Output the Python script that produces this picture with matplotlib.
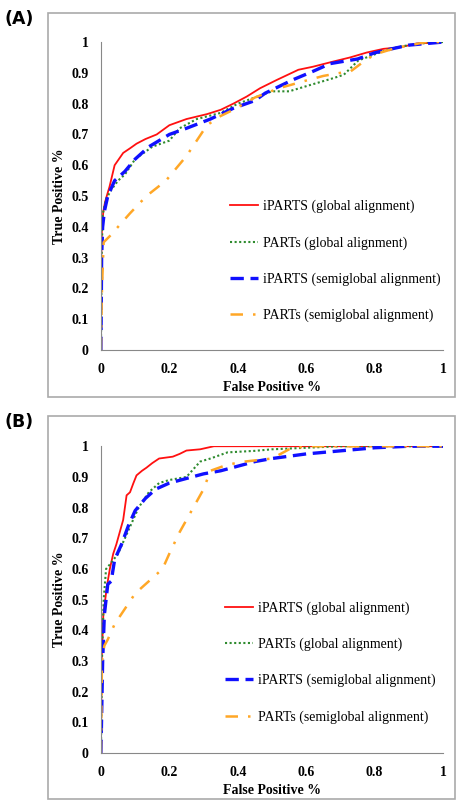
import numpy as np
import matplotlib.pyplot as plt
from matplotlib.patches import Rectangle

# ===== panel A data (FPR, TPR) =====
a_red_x = [0, 0.001, 0.003, 0.007, 0.012, 0.017, 0.025, 0.04, 0.065, 0.085, 0.104, 0.13, 0.163, 0.2, 0.25,
           0.31, 0.35, 0.387, 0.426, 0.465, 0.514, 0.577, 0.62, 0.68, 0.728, 0.777, 0.826, 0.874, 0.923, 1.0]
a_red_y = [0, 0.3, 0.4, 0.45, 0.48, 0.50, 0.53, 0.60, 0.64, 0.655, 0.67, 0.685, 0.70, 0.73, 0.75,
           0.766, 0.78, 0.80, 0.823, 0.85, 0.877, 0.91, 0.92, 0.937, 0.95, 0.966, 0.978, 0.983, 0.995, 1.0]

a_green_x = [0, 0.002, 0.005, 0.015, 0.03, 0.05, 0.07, 0.1, 0.15, 0.2, 0.23, 0.28, 0.35, 0.4, 0.445, 0.5,
             0.55, 0.61, 0.68, 0.71, 0.752, 0.8, 0.85, 0.9, 0.97, 1.0]
a_green_y = [0, 0.3, 0.44, 0.49, 0.52, 0.55, 0.57, 0.62, 0.66, 0.68, 0.72, 0.75, 0.77, 0.80, 0.818, 0.84,
             0.84, 0.86, 0.883, 0.894, 0.94, 0.96, 0.98, 0.99, 1.0, 1.0]

a_blue_x = [0, 0.002, 0.005, 0.01, 0.02, 0.04, 0.07, 0.1, 0.14, 0.2, 0.25, 0.32, 0.387, 0.45, 0.48, 0.56,
            0.62, 0.67, 0.75, 0.8, 0.85, 0.9, 0.95, 1.0]
a_blue_y = [0, 0.3, 0.4, 0.45, 0.50, 0.55, 0.58, 0.62, 0.66, 0.70, 0.72, 0.75, 0.785, 0.81, 0.834, 0.877,
            0.905, 0.93, 0.945, 0.965, 0.978, 0.99, 0.995, 1.0]

a_orange_x = [0, 0.003, 0.008, 0.026, 0.05, 0.085, 0.133, 0.19, 0.25, 0.31, 0.35, 0.387, 0.45, 0.52, 0.6,
              0.65, 0.7, 0.73, 0.76, 0.8, 0.86, 0.95, 1.0]
a_orange_y = [0, 0.2, 0.35, 0.37, 0.40, 0.444, 0.50, 0.55, 0.63, 0.73, 0.76, 0.78, 0.82, 0.85, 0.875,
              0.89, 0.90, 0.905, 0.93, 0.96, 0.98, 1.0, 1.0]

# ===== panel B data =====
b_red_x = [0, 0.002, 0.007, 0.017, 0.026, 0.036, 0.045, 0.055, 0.065, 0.075, 0.085, 0.095, 0.104, 0.12,
           0.133, 0.15, 0.17, 0.21, 0.23, 0.25, 0.29, 0.33, 1.0]
b_red_y = [0, 0.3, 0.45, 0.54, 0.60, 0.65, 0.68, 0.72, 0.76, 0.84, 0.85, 0.88, 0.905, 0.92,
           0.93, 0.945, 0.96, 0.966, 0.975, 0.986, 0.99, 1.0, 1.0]

b_green_x = [0, 0.003, 0.008, 0.015, 0.03, 0.05, 0.07, 0.09, 0.11, 0.14, 0.17, 0.2, 0.25, 0.29, 0.32,
             0.37, 0.45, 0.5, 0.6, 0.7, 1.0]
b_green_y = [0, 0.3, 0.5, 0.6, 0.62, 0.65, 0.70, 0.75, 0.80, 0.85, 0.88, 0.89, 0.90, 0.95, 0.96,
             0.98, 0.985, 0.99, 0.995, 1.0, 1.0]

b_blue_x = [0, 0.005, 0.01, 0.02, 0.03, 0.04, 0.06, 0.08, 0.1, 0.13, 0.16, 0.2, 0.25, 0.3, 0.35, 0.4,
            0.45, 0.5, 0.6, 0.7, 0.8, 0.9, 1.0]
b_blue_y = [0, 0.3, 0.45, 0.55, 0.56, 0.63, 0.68, 0.74, 0.79, 0.83, 0.86, 0.88, 0.895, 0.91, 0.92, 0.935,
            0.95, 0.96, 0.975, 0.985, 0.995, 1.0, 1.0]

b_orange_x = [0, 0.003, 0.01, 0.02, 0.04, 0.07, 0.1, 0.14, 0.18, 0.2, 0.23, 0.27, 0.3, 0.32, 0.37, 0.42,
              0.5, 0.55, 0.6, 1.0]
b_orange_y = [0, 0.3, 0.35, 0.37, 0.42, 0.47, 0.52, 0.56, 0.60, 0.65, 0.72, 0.80, 0.86, 0.92, 0.94, 0.95,
              0.96, 0.99, 1.0, 1.0]

labels = ["iPARTS (global alignment)", "PARTs (global alignment)",
          "iPARTS (semiglobal alignment)", "PARTs (semiglobal alignment)"]
xticks = [0, 0.2, 0.4, 0.6, 0.8, 1]
xtick_labels = ["0", "0.2", "0.4", "0.6", "0.8", "1"]
yticks = [0, 0.1, 0.2, 0.3, 0.4, 0.5, 0.6, 0.7, 0.8, 0.9, 1]
ytick_labels = ["0", "0.1", "0.2", "0.3", "0.4", "0.5", "0.6", "0.7", "0.8", "0.9", "1"]

serif = "Liberation Serif"

fig = plt.figure(figsize=(4.63, 8.01), dpi=100)


def draw_panel(rect, frame, tag, series, leg_anchor):
    fig.patches.append(Rectangle(frame[:2], frame[2], frame[3], transform=fig.transFigure,
                                 fill=False, edgecolor="#aaaaaa", linewidth=1.2))
    fig.text(frame[0] - 0.094, frame[1] + frame[3] + 0.004, tag, fontsize=12.5, fontweight="bold",
             ha="left", va="top", family="DejaVu Sans")
    ax = fig.add_axes(rect)
    (rx, ry), (gx, gy), (bx, by), (ox, oy) = series
    ax.plot(rx, ry, color="#ff1010", lw=1.3, label=labels[0])
    ax.plot(gx, gy, color="#2e8b2e", lw=1.5, linestyle=(0, (1, 1.2)), label=labels[1])
    ax.plot(bx, by, color="#1010ff", lw=2.4, linestyle=(0, (4, 2)), label=labels[2])
    ax.plot(ox, oy, color="#ffa726", lw=1.8, linestyle=(0, (5, 4, 1, 4)), label=labels[3])
    ax.set_xlim(0, 1)
    ax.set_ylim(0, 1)
    ax.set_xticks(xticks, xtick_labels)
    ax.set_yticks(yticks, ytick_labels)
    ax.tick_params(length=0, pad=9)
    for t in ax.get_xticklabels() + ax.get_yticklabels():
        t.set_family(serif)
        t.set_fontweight("bold")
        t.set_fontsize(10)
    ax.spines["top"].set_visible(False)
    ax.spines["right"].set_visible(False)
    ax.spines["left"].set_color("#888888")
    ax.spines["bottom"].set_color("#888888")
    ax.set_xlabel("False Positive %", family=serif, fontweight="bold", fontsize=10, labelpad=4)
    ax.set_ylabel("True Positive %", family=serif, fontweight="bold", fontsize=10, labelpad=4)
    ax.legend(loc="upper left", bbox_to_anchor=leg_anchor, frameon=False, borderpad=0,
              borderaxespad=0, handlelength=2.0, handletextpad=0.35, labelspacing=1.65,
              prop={"family": serif, "size": 10})
    return ax


draw_panel([0.218, 0.563, 0.739, 0.3845], [0.1037, 0.5044, 0.879, 0.479], "(A)",
           [(a_red_x, a_red_y), (a_green_x, a_green_y), (a_blue_x, a_blue_y), (a_orange_x, a_orange_y)],
           (0.377, 0.488))
draw_panel([0.218, 0.0599, 0.739, 0.383], [0.1037, 0.0025, 0.879, 0.478], "(B)",
           [(b_red_x, b_red_y), (b_green_x, b_green_y), (b_blue_x, b_blue_y), (b_orange_x, b_orange_y)],
           (0.363, 0.495))

plt.savefig("out.png", dpi=100)
